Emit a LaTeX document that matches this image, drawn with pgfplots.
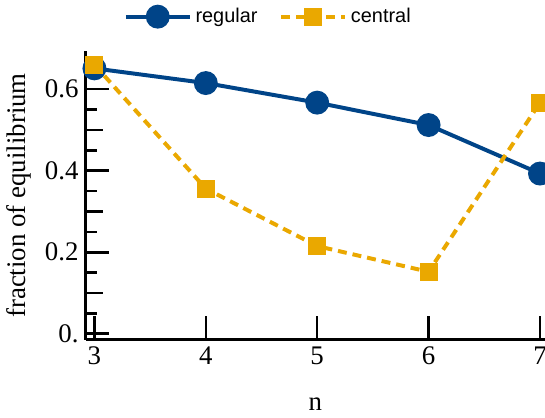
\documentclass[border=0pt]{standalone}
\usepackage{pgfplots}
\pgfplotsset{compat=1.18}
\usepackage{fontspec}
\setmainfont{Liberation Serif}
\newfontfamily\legendfont{Liberation Sans}

\definecolor{regblue}{RGB}{0,68,136}
\definecolor{centorange}{RGB}{234,168,0}

\begin{document}
\begin{tikzpicture}[trim axis right]
\begin{axis}[
  scale only axis,
  width=231pt, height=145pt,
  xmin=2.92, xmax=7.045,
  ymin=-0.0146, ymax=0.693,
  axis lines=left,
  axis line style={-, line width=1.3pt},
  tick align=inside,
  xtick={3,4,5,6,7},
  xticklabels={3,4,5,6,7},
  ytick={0,0.2,0.4,0.6},
  yticklabels={0.,0.2,0.4,0.6},
  minor ytick={0.05,0.15,0.25,0.35,0.45,0.55,0.65},
  extra y ticks={0.1,0.3,0.5},
  extra y tick labels={},
  extra y tick style={major tick length=9pt},
  major tick length=12pt,
  minor tick length=6pt,
  every tick/.style={black, line width=1.3pt},
  tick label style={font=\fontsize{13.5}{15}\selectfont},
  label style={font=\fontsize{13.5}{15}\selectfont},
  xlabel={n},
  xlabel style={yshift=-10pt},
  ylabel={fraction of equilibrium},
  clip=true,
  legend columns=2,
  legend style={draw=none, fill=none,
    at={(rel axis cs:0.40,1.12)}, anchor=center,
    font=\legendfont\fontsize{10}{12}\selectfont,
    /tikz/every even column/.append style={column sep=9pt}},
  legend image code/.code={\draw[mark repeat=2,mark phase=2]
    plot coordinates {(0pt,0pt) (16pt,0pt) (32pt,0pt)};},
]
\addplot[regblue, line width=2pt, mark=*, mark size=5pt, mark options={solid}]
  coordinates {(3,0.651) (4,0.615) (5,0.567) (6,0.512) (7,0.393)};
\addlegendentry{regular}
\addplot[centorange, line width=2pt, dash pattern=on 4.5pt off 3pt,
  mark=square*, mark size=3.5pt, mark options={solid}]
  coordinates {(3,0.660) (4,0.356) (5,0.215) (6,0.152) (7,0.567)};
\addlegendentry{central}
\end{axis}
\end{tikzpicture}
\end{document}
